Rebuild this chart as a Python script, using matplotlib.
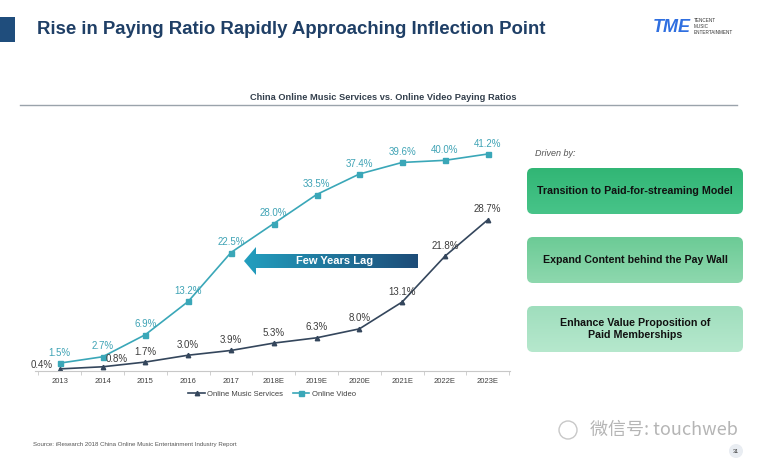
import numpy as np
import matplotlib
matplotlib.use("Agg")
import matplotlib.pyplot as plt
from matplotlib.patches import Rectangle, FancyBboxPatch, Polygon, Circle
from matplotlib.colors import LinearSegmentedColormap

plt.rcParams["font.family"] = ["Liberation Sans", "DejaVu Sans"]

# data
years = ["2013", "2014", "2015", "2016", "2017", "2018E", "2019E",
         "2020E", "2021E", "2022E", "2023E"]
music = [0.4, 0.8, 1.7, 3.0, 3.9, 5.3, 6.3, 8.0, 13.1, 21.8, 28.7]
video = [1.5, 2.7, 6.9, 13.2, 22.5, 28.0, 33.5, 37.4, 39.6, 40.0, 41.2]
drivers = ["Transition to Paid-for-streaming Model",
           "Expand Content behind the Pay Wall",
           "Enhance Value Proposition of\nPaid Memberships"]

W, H = 770, 465
fig = plt.figure(figsize=(W / 100, H / 100), dpi=100)
fig.patch.set_facecolor("white")

# overlay in pixel coordinates for the slide decorations
deco = fig.add_axes([0, 0, 1, 1], zorder=0)
deco.set_xlim(0, W)
deco.set_ylim(H, 0)
deco.axis("off")

# chart axes
ax = fig.add_axes([35 / W, 1 - 371 / H, 475 / W, 237 / H], zorder=2)
ax.patch.set_alpha(0)
x = np.arange(len(years))
c_video = "#3aa7b8"
c_music = "#34465c"
ax.plot(x, music, color=c_music, lw=1.2, marker="^", ms=3.2, label="Online Music Services")
ax.plot(x, video, color=c_video, lw=1.2, marker="s", ms=3.6, label="Online Video")

for i, v in enumerate(video):
    ax.annotate(f"{v:.1f}%", (x[i], v), xytext=(0, 7.5), textcoords="offset points",
                ha="center", va="center", fontsize=7, color="#3fa3b5")
for i, v in enumerate(music):
    off = (0, 7.5)
    if i == 0:
        off = (-13, 3)
    elif i == 1:
        off = (10, 5.5)
    ax.annotate(f"{v:.1f}%", (x[i], v), xytext=off, textcoords="offset points",
                ha="center", va="center", fontsize=7, color="#3d3d3d")

ax.set_xlim(-0.58, 10.52)
ax.set_ylim(0, 45)
ax.set_yticks([])
for s in ["top", "right", "left"]:
    ax.spines[s].set_visible(False)
ax.spines["bottom"].set_color("#c8c8c8")
ax.spines["bottom"].set_linewidth(0.8)
ax.set_xticks(x)
ax.set_xticklabels(years, fontsize=5.5, color="#404040")
ax.tick_params(axis="x", which="major", length=0, pad=5)
ax.set_xticks(np.arange(-0.5, 10.6, 1), minor=True)
ax.tick_params(axis="x", which="minor", length=3, color="#c8c8c8", width=0.6)

fig.legend(loc="center", bbox_to_anchor=(272 / W, 1 - 394 / H), ncol=2, frameon=False,
           fontsize=5.5, handlelength=2.2, columnspacing=1.2, handletextpad=0.3,
           labelcolor="#404040")

# header
deco.add_patch(Rectangle((0, 17), 15, 25, color="#1f4d7c", lw=0))
deco.text(37, 30, "Rise in Paying Ratio Rapidly Approaching Inflection Point",
          fontsize=13.4, fontweight="bold", color="#1f3f66", va="center", ha="left")
deco.text(672, 28, "TME", fontsize=13, fontweight="bold", fontstyle="italic",
          color="#2f6fe0", va="center", ha="center")
for k, t in enumerate(["TENCENT", "MUSIC", "ENTERTAINMENT"]):
    deco.text(694, 21 + 6 * k, t, fontsize=3.3, color="#333333", va="center", ha="left")

# subtitle + rule
deco.text(383, 97, "China Online Music Services vs. Online Video Paying Ratios",
          fontsize=6.7, fontweight="bold", color="#333f4c", ha="center", va="center")
deco.plot([20, 737], [105, 105], color="#9aa3ab", lw=1.0)

# arrow with gradient
arrow_pts = [(244, 261), (256, 247), (256, 254), (418, 254), (418, 268),
             (256, 268), (256, 275)]
poly = Polygon(arrow_pts, closed=True, facecolor="none", edgecolor="none")
deco.add_patch(poly)
grad = np.linspace(0, 1, 256).reshape(1, -1)
cmap_arrow = LinearSegmentedColormap.from_list("arr", ["#239fbf", "#1d4c78"])
im = deco.imshow(grad, cmap=cmap_arrow, extent=(244, 418, 275, 247), aspect="auto",
                 zorder=1)
im.set_clip_path(poly)
deco.text(335, 261, "Few Years Lag", fontsize=8, fontweight="bold", color="white",
          ha="center", va="center", zorder=3)

# right-hand driver boxes
deco.text(535, 153, "Driven by:", fontsize=6.5, fontstyle="italic", color="#555555",
          ha="left", va="center")
box_tops = [168, 237, 306]
box_cols = [("#31b675", "#48c489"), ("#6ccb96", "#8ed8ae"), ("#9fdebd", "#b6e8cd")]
for top, (c1, c2), txt in zip(box_tops, box_cols, drivers):
    bp = FancyBboxPatch((527, top), 216, 46, boxstyle="round,pad=0,rounding_size=6",
                        facecolor="none", edgecolor="none")
    deco.add_patch(bp)
    g = np.linspace(0, 1, 64).reshape(-1, 1)
    cm = LinearSegmentedColormap.from_list("b", [c1, c2])
    bim = deco.imshow(g, cmap=cm, extent=(527, 743, top + 46, top), aspect="auto", zorder=1)
    bim.set_clip_path(bp)
    deco.text(635, top + 23, txt, fontsize=7.7, fontweight="bold", color="#111111",
              ha="center", va="center", linespacing=1.25, zorder=3)

# footer
deco.text(33, 444, "Source: iResearch 2018 China Online Music Entertainment Industry Report",
          fontsize=4.4, color="#555555", ha="left", va="center")
deco.text(590, 430, "微信号: touchweb", fontsize=13, color="#b5b5b5", ha="left",
          va="center", family=["Noto Sans CJK SC", "DejaVu Sans"])
deco.add_patch(Circle((568, 430), 9, facecolor="none", edgecolor="#c8c8c8", lw=1.0))
deco.add_patch(Circle((736, 451), 7, facecolor="#e9edf2", edgecolor="none"))
deco.text(736, 451, "31", fontsize=4, color="#333333", ha="center", va="center")

deco.set_xlim(0, W)
deco.set_ylim(H, 0)

fig.savefig("out.png", dpi=100)
